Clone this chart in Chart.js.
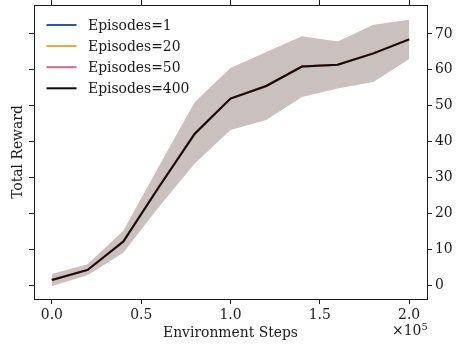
<!DOCTYPE html>
<html>
<head>
<meta charset="utf-8">
<script src="https://cdn.jsdelivr.net/npm/chart.js@4/dist/chart.umd.min.js"></script>
<style>
  html, body { margin: 0; padding: 0; background: #fff; }
  #wrap { width: 456px; height: 346px; }
</style>
</head>
<body>
<div id="wrap"><canvas id="chart"></canvas></div>
<script>
const steps = [0, 20000, 40000, 60000, 80000, 100000, 120000, 140000, 160000, 180000, 200000];
const meanReward = [1.4, 4.2, 12.1, 27.4, 42.2, 52.0, 55.5, 60.9, 61.4, 64.6, 68.5];
const upperReward = [3.1, 5.8, 15.1, 33.2, 51.0, 60.5, 65.0, 69.4, 67.9, 72.6, 74.0];
const lowerReward = [-0.3, 2.7, 9.0, 21.8, 33.9, 43.2, 46.0, 52.4, 54.8, 56.6, 63.0];
const episodeLabels = ['Episodes=1', 'Episodes=20', 'Episodes=50', 'Episodes=400'];
const episodeColors = ['#255c99', '#e6a838', '#c86f7c', '#140c0c'];
const xTicks = [0, 50000, 100000, 150000, 200000];
const yTicks = [0, 10, 20, 30, 40, 50, 60, 70];

const FONT = "'DejaVu Serif', serif";
const INK = '#1a1a1a';
const BAND = '#cac0be';

const xMin = -10000, xMax = 210000;
const yMin = -3.9, yMax = 78.08;

function toPoints(values) {
  return steps.map((s, i) => ({ x: s, y: values[i] }));
}

const datasets = [
  {
    label: 'upper',
    data: toPoints(upperReward),
    borderWidth: 0,
    backgroundColor: BAND,
    fill: '+1',
    pointRadius: 0,
    order: 10,
  },
  {
    label: 'lower',
    data: toPoints(lowerReward),
    borderWidth: 0,
    backgroundColor: BAND,
    fill: false,
    pointRadius: 0,
    order: 10,
  },
];

episodeLabels.forEach((label, i) => {
  datasets.push({
    label,
    data: toPoints(meanReward),
    borderColor: episodeColors[i],
    borderWidth: 2,
    fill: false,
    pointRadius: 0,
    tension: 0,
    order: 4 - i,
    isEpisode: true,
  });
});

// matplotlib-style legend: short line, text after a fixed gap
const legendPlugin = {
  id: 'mplLegend',
  afterDatasetsDraw(chart) {
    const { ctx } = chart;
    const items = chart.data.datasets.filter(d => d.isEpisode);
    ctx.save();
    ctx.font = `13.9px ${FONT}`;
    ctx.textBaseline = 'alphabetic';
    ctx.textAlign = 'left';
    items.forEach((d, i) => {
      const y = 25 + i * 21.1;
      ctx.strokeStyle = d.borderColor;
      ctx.lineWidth = 2;
      ctx.beginPath();
      ctx.moveTo(46.5, y);
      ctx.lineTo(76.5, y);
      ctx.stroke();
      ctx.fillStyle = INK;
      ctx.fillText(d.label, 88, y + 5);
    });
    ctx.restore();
  },
};

// offset text for the x axis (x10^5)
const offsetTextPlugin = {
  id: 'offsetText',
  afterDraw(chart) {
    const { ctx } = chart;
    ctx.save();
    ctx.fillStyle = INK;
    ctx.textBaseline = 'alphabetic';
    ctx.textAlign = 'left';
    ctx.font = `13.9px ${FONT}`;
    ctx.fillText('×10', 392, 335);
    ctx.font = `9.7px ${FONT}`;
    ctx.fillText('5', 421.5, 330);
    ctx.restore();
  },
};

function sideAxis(position, size, showLabels, extra) {
  const horizontal = position === 'top' || position === 'bottom';
  return Object.assign({
    type: 'linear',
    position,
    min: horizontal ? xMin : yMin,
    max: horizontal ? xMax : yMax,
    afterBuildTicks(scale) {
      scale.ticks = (horizontal ? xTicks : yTicks).map(v => ({ value: v }));
    },
    afterFit(scale) {
      if (horizontal) {
        scale.height = size;
      } else {
        scale.width = size;
        // labels sit well inside the axis, no need to reserve room
        scale.paddingTop = 0;
        scale.paddingBottom = 0;
      }
    },
    grid: {
      drawOnChartArea: false,
      drawTicks: true,
      tickLength: 5,
      tickColor: INK,
      tickWidth: 1,
    },
    border: { display: true, color: INK, width: 1 },
    ticks: {
      display: showLabels,
      color: INK,
      padding: 3,
      maxRotation: 0,
      autoSkip: false,
      font: { family: FONT, size: 13.9 },
      callback: horizontal ? v => (v / 1e5).toFixed(1) : v => String(v),
    },
  }, extra || {});
}

new Chart(document.getElementById('chart'), {
  type: 'line',
  data: { datasets },
  options: {
    responsive: true,
    maintainAspectRatio: false,
    animation: false,
    devicePixelRatio: 1,
    layout: { padding: 0 },
    plugins: {
      legend: { display: false },
      tooltip: { enabled: false },
    },
    scales: {
      x: sideAxis('bottom', 47, true, {
        title: {
          display: true,
          text: 'Environment Steps',
          color: INK,
          font: { family: FONT, size: 13.9 },
          padding: { top: 0, bottom: 4 },
        },
      }),
      x2: sideAxis('top', 5, false),
      y: sideAxis('right', 29, true),
      y2: sideAxis('left', 34, false, {
        title: {
          display: true,
          text: 'Total Reward',
          color: INK,
          font: { family: FONT, size: 13.9 },
          padding: { top: 10, bottom: 0 },
        },
      }),
    },
  },
  plugins: [legendPlugin, offsetTextPlugin],
});
</script>
</body>
</html>
